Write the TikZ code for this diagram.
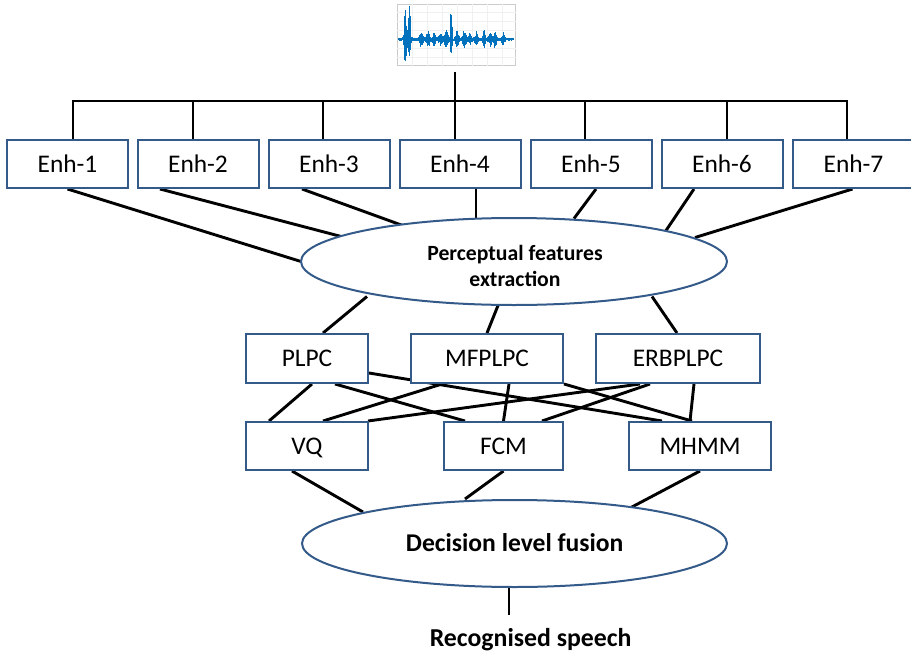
\documentclass[tikz,border=0pt]{standalone}
\usepackage{fontspec}
\setmainfont{Carlito}
\usetikzlibrary{shapes.geometric,calc,backgrounds}
\definecolor{boxblue}{RGB}{52,90,138}
\definecolor{sigblue}{RGB}{0,114,189}
% smooth bump used for the waveform envelope
\pgfmathdeclarefunction{gb}{3}{\pgfmathparse{exp(-1*min(abs(#1-#2)/#3,4)*min(abs(#1-#2)/#3,4))}}
\begin{document}
\begin{tikzpicture}[x=1pt,y=-1pt,
  link/.style={line width=2.9pt,black},
  stage/.style={draw=boxblue,line width=2pt,fill=white,rectangle,inner sep=0pt,
    text height=16.4pt,text depth=0pt,minimum height=48pt,
    font=\fontsize{25.4}{28}\selectfont},
  oval/.style={draw=boxblue,line width=2pt,fill=white,ellipse,inner sep=0pt,
    minimum width=426pt,minimum height=87pt},
]
\useasboundingbox (0,0) rectangle (911,654);

% ---------- input signal plot ----------
\node[minimum width=127pt,minimum height=70pt,inner sep=0pt] (sig) at (455,37) {};
\draw[gray!40,line width=0.4pt] (397,4) rectangle (515.5,65.5);
\foreach \gx in {412,427,442,457,472,487,502}
  \draw[gray!12,line width=0.3pt] (\gx,4) -- (\gx,65.5);
\foreach \gy in {12,21,30,48,57}
  \draw[gray!12,line width=0.3pt] (397,\gy) -- (515.5,\gy);
\draw[sigblue,line width=0.8pt] (398,39.3) -- (513.5,39.3);
\pgfmathsetseed{11}
\foreach \x in {398.6,398.95,...,513.2}{
  \pgfmathsetmacro\en{1.6+8*gb(\x,407.5,3)+7*gb(\x,421,2)+7*gb(\x,428,2)+6*gb(\x,434,1.5)
    +5*gb(\x,440,2)+8*gb(\x,446,2)+8*gb(\x,457,1.5)+7*gb(\x,464,2)+6*gb(\x,470,1.5)
    +7*gb(\x,476,1.5)+8*gb(\x,484,1.5)+6*gb(\x,490,2)+8*gb(\x,495,1.5)+6*gb(\x,503,1.5)}
  \pgfmathsetmacro\spu{26*gb(\x,405,1.0)+31*gb(\x,409.3,0.7)+29*gb(\x,451,0.8)}
  \pgfmathsetmacro\spd{22*gb(\x,405,1.1)+12*gb(\x,409.3,0.8)+14*gb(\x,451,0.9)}
  \draw[sigblue,line width=0.6pt]
    (\x,{39.3-\en*(0.4+0.6*rnd)-\spu*(0.8+0.2*rnd)}) --
    (\x,{39.3+\en*(0.4+0.6*rnd)+\spd*(0.8+0.2*rnd)});
}

% ---------- enhancement stages ----------
\foreach \n/\cx in {1/67.5,2/198,3/329,4/460,5/591,6/722,7/853.5}
  \node[stage,minimum width=121pt] (e\n) at (\cx,164) {Enh-\n};

% ---------- feature extraction ----------
\node[oval] (pf) at (514,261.5) {};
\node[font=\bfseries\fontsize{21.7}{26}\selectfont,align=center,anchor=base]
  (pftext) at (515,286) {Perceptual features\\extraction};

\node[stage,minimum width=122pt,minimum height=49pt] (plpc) at (307,358.5) {PLPC};
\node[stage,minimum width=152pt,minimum height=49pt] (mf)   at (487,358.5) {MFPLPC};
\node[stage,minimum width=164pt,minimum height=49pt] (erb)  at (678,358.5) {ERBPLPC};

% ---------- classifiers ----------
\node[stage,minimum width=122pt] (vq)   at (307,446)   {VQ};
\node[stage,minimum width=119pt] (fcm)  at (503.5,446) {FCM};
\node[stage,minimum width=142pt] (mhmm) at (700,446)   {MHMM};

% ---------- fusion and output ----------
\node[oval,minimum width=425pt] (dl) at (514.5,543.5) {};
\node[font=\bfseries\fontsize{25.6}{30}\selectfont,anchor=base] (dltext) at (514.7,551) {Decision level fusion};
\node[font=\bfseries\fontsize{25.8}{30}\selectfont,anchor=base] (res) at (530.7,646.5) {Recognised speech};
\coordinate (out) at (509,615);

\begin{pgfonlayer}{background}
  % distribution bus
  \foreach \n/\bx in {1/73,2/193,3/323,4/455,5/585,6/727,7/847}
    \coordinate (t\n) at (\bx,101);
  \draw[link] (sig.south) -- (t4);
  \draw[link] (t1 |- e1.north) -- (t1) -- (t7) -- (t7 |- e7.north);
  \foreach \n in {2,...,6}
    \draw[link] (t\n) -- (t\n |- e\n.north);

  % stages to feature extraction
  \draw[link] (e1.south) -- ($(pf.center)+(-213,0)$);
  \draw[link] ($(e2.south)+(-38,0)$) -- ($(pf.center)+(-169,-24)$);
  \draw[link] ($(e3.south)+(-27,0)$) -- ($(pf.center)+(-103,-33)$);
  \draw[link] ($(e4.south)+(16,0)$) -- ($(pf.center)+(-38,-43)$);
  \draw[link] ($(e5.south)+(5,0)$) -- ($(pf.center)+(60,-43)$);
  \draw[link] ($(e6.south)+(-28,0)$) -- ($(pf.center)+(152,-31)$);
  \draw[link] ($(e7.south)+(-1,0)$) -- ($(pf.center)+(181,-24)$);

  % feature extraction to feature sets
  \draw[link] ($(pf.center)+(-147,35)$) -- ($(plpc.north)+(16,0)$);
  \draw[link] ($(pf.center)+(-16,44)$) -- (mf.north);
  \draw[link] ($(pf.center)+(138,35)$) -- ($(erb.north)+(-1,0)$);

  % every feature set to every classifier
  \draw[link] ($(plpc.south)+(5,0)$) -- ($(vq.north)+(-38,0)$);
  \draw[link] ($(plpc.south)+(28,0)$) -- ($(fcm.north)+(-38.5,0)$);
  \draw[link] ($(plpc.east)+(0,14.5)$) -- ($(mhmm.north)+(-38,0)$);
  \draw[link] ($(mf.south)+(-45,0)$) -- ($(vq.north)+(16,0)$);
  \draw[link] ($(mf.south)+(22,0)$) -- (fcm.north);
  \draw[link] (mf.south east) -- ($(mhmm.north)+(-8,0)$);
  \draw[link] ($(erb.south)+(-38,0)$) -- ($(vq.north east)+(-1,0)$);
  \draw[link] ($(erb.south)+(-28,0)$) -- ($(fcm.north)+(38.5,0)$);
  \draw[link] ($(erb.south)+(16,0)$) -- ($(mhmm.north)+(-10,0)$);

  % classifiers to fusion
  \draw[link] ($(vq.south)+(-15,0)$) -- ($(dl.center)+(-151.5,-31.5)$);
  \draw[link] (fcm.south) -- ($(dl.center)+(-49.5,-44.5)$);
  \draw[link] (mhmm.south) -- ($(dl.center)+(115.5,-35.5)$);

  % fusion to output
  \draw[link] (dl.south -| out) -- (out);
\end{pgfonlayer}
\end{tikzpicture}
\end{document}
